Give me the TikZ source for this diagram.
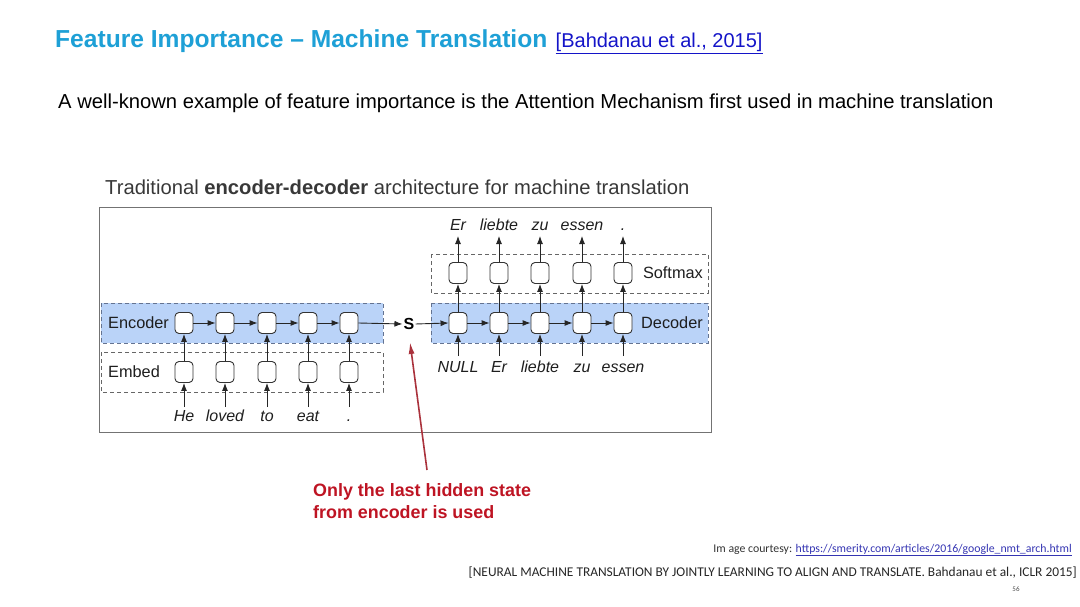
\documentclass[tikz,border=0pt]{standalone}
\usepackage{fontspec}
\setmainfont{Liberation Sans}
\newfontfamily\calib{Carlito}
\usetikzlibrary{arrows.meta}
\definecolor{titleblue}{RGB}{30,160,214}
\definecolor{linkblue}{RGB}{20,20,200}
\definecolor{bandfill}{RGB}{186,211,248}
\definecolor{bandline}{RGB}{100,115,145}
\definecolor{darkred}{RGB}{190,20,35}
\definecolor{arrowred}{RGB}{170,50,60}
\definecolor{txt}{RGB}{30,30,30}
\tikzset{
  cell/.style={draw=black!80, fill=white, rounded corners=4pt, minimum width=18pt, minimum height=21pt, inner sep=0pt, line width=0.9pt},
  arr/.style={-{Latex[length=8pt,width=6pt]}, line width=0.9pt, black!85},
  band/.style={draw=bandline, fill=bandfill, dashed, dash pattern=on 4pt off 3pt, line width=0.9pt},
  dbox/.style={draw=black!60, dashed, dash pattern=on 4pt off 3pt, line width=0.9pt},
  lbl/.style={font=\fontsize{16.3}{18}\selectfont, text=txt, inner sep=0pt},
  word/.style={font=\fontsize{16}{18}\selectfont\itshape, text=txt, inner sep=0pt, anchor=base},
}
\begin{document}
\begin{tikzpicture}[x=1pt,y=-1pt]
\useasboundingbox (0,0) rectangle (1080,607);
% title
\node[anchor=base west, inner sep=0pt, font=\fontsize{24.6}{26}\selectfont\bfseries, text=titleblue] (title) at (55,48) {Feature Importance -- Machine Translation};
\node[anchor=base west, inner sep=0pt, font=\fontsize{20}{22}\selectfont, text=linkblue] (cite) at ([xshift=8pt]title.base east) {\underline{[Bahdanau et al., 2015]}};
\node[anchor=base west, inner sep=0pt, font=\fontsize{20.2}{22}\selectfont, text=black] (sub) at (58,109) {A well-known example of feature importance is the Attention Mechanism first used in machine translation};
\node[anchor=base west, inner sep=0pt, font=\fontsize{20.2}{22}\selectfont, text=black!78] (cap) at (105,195) {Traditional \textbf{encoder-decoder} architecture for machine translation};
% frame
\draw[black!55, line width=1pt] (99,208) rectangle (711,432);
% bands
\draw[band] (101,303) rectangle (383,343);
\draw[dbox] (101,352) rectangle (383,392);
\draw[band] (431,303) rectangle (708,343);
\draw[dbox] (431,254) rectangle (708,293);
\node[lbl, anchor=west] (enc) at (108,323) {Encoder};
\node[lbl, anchor=west] (emb) at (108,372) {Embed};
\node[lbl, anchor=east] (dec) at (703,323) {Decoder};
\node[lbl, anchor=east] (sm) at (703,273) {Softmax};
% encoder cells
\foreach \i/\x/\w in {1/184/He,2/225/loved,3/267/to,4/308/eat,5/349/.}{
  \node[cell] (e\i) at (\x,323) {};
  \node[cell] (m\i) at (\x,372) {};
  \node[word] (w\i) at (\x,421) {\w};
  \draw[arr] ([yshift=14pt]w\i.base) -- (m\i.south);
  \draw[arr] (m\i.north) -- (e\i.south);
}
\foreach \i/\j in {1/2,2/3,3/4,4/5}{ \draw[arr] (e\i.east) -- (e\j.west); }
\node[inner sep=1pt, font=\fontsize{16}{18}\selectfont\bfseries] (S) at (409,324) {S};
\draw[arr] (e5.east) -- (S.west);
% decoder cells
\foreach \i/\x/\o/\n in {1/458/Er/NULL,2/499/liebte/Er,3/540/zu/liebte,4/582/essen/zu,5/623/./essen}{
  \node[cell] (d\i) at (\x,323) {};
  \node[cell] (s\i) at (\x,273) {};
  \node[word] (o\i) at (\x,230) {\o};
  \node[word] (n\i) at (\x,372) {\n};
  \draw[arr] (d\i.north) -- (s\i.south);
  \draw[arr] (s\i.north) -- (o\i.base |- 0,236);
  \draw[arr] ([yshift=16pt]n\i.base) -- (d\i.south);
}
\foreach \i/\j in {1/2,2/3,3/4,4/5}{ \draw[arr] (d\i.east) -- (d\j.west); }
\draw[arr] (S.east) -- (d1.west);
% red annotation
\node[anchor=base west, align=left, inner sep=0pt, font=\fontsize{17.9}{22}\selectfont\bfseries, text=darkred] (note) at (313,518) {Only the last hidden state\\from encoder is used};
\coordinate (tip) at (410,342);
\coordinate (tail) at (427,470);
\draw[-{Latex[length=12pt,width=6pt]}, arrowred, line width=1.6pt] (tail) -- (tip);
% footer
\node[anchor=base east, inner sep=0pt, font=\calib\fontsize{11.8}{13}\selectfont, text=black!80] (img) at (1072,552) {Im age courtesy: \textcolor{linkblue!70!gray}{\underline{https://smerity.com/articles/2016/google\_nmt\_arch.html}}};
\node[anchor=base east, inner sep=0pt, font=\calib\fontsize{13.4}{15}\selectfont, text=black!85] (ref) at (1077,576) {[NEURAL MACHINE TRANSLATION BY JOINTLY LEARNING TO ALIGN AND TRANSLATE. Bahdanau et al., ICLR 2015]};
\node[anchor=base, inner sep=0pt, font=\calib\fontsize{7}{8}\selectfont, text=black!70] (pg) at (1016,591) {56};
\end{tikzpicture}
\end{document}
